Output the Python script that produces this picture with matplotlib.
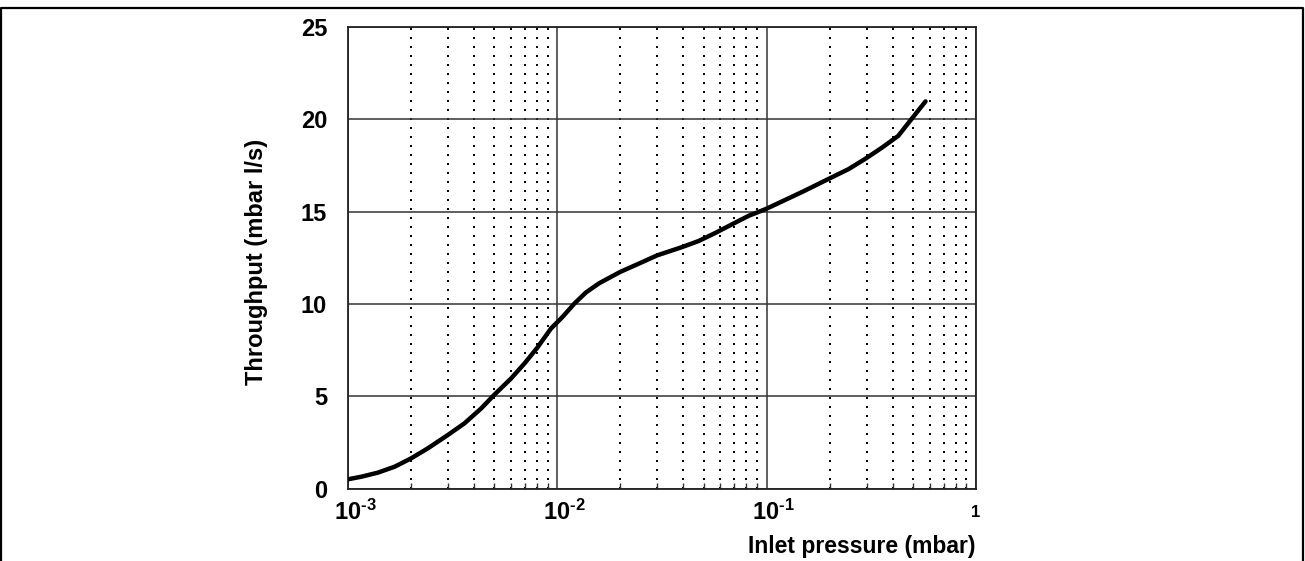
import matplotlib
matplotlib.use("Agg")
import matplotlib.pyplot as plt
import matplotlib.transforms as mtrans
from matplotlib.lines import Line2D
from matplotlib.ticker import LogLocator, FixedLocator, NullFormatter

# ---- data ----
pressure = [0.001, 0.00116, 0.00139, 0.00167, 0.002, 0.00241, 0.003, 0.0036,
            0.00433, 0.005, 0.006, 0.007, 0.008, 0.00933, 0.0106, 0.01207,
            0.0137, 0.01585, 0.01995, 0.0246, 0.030, 0.0395, 0.0474, 0.057,
            0.0736, 0.0823, 0.09, 0.1, 0.15, 0.2, 0.246, 0.295, 0.354, 0.425,
            0.483, 0.574]
throughput = [0.50, 0.64, 0.86, 1.18, 1.63, 2.18, 2.90, 3.53,
              4.34, 5.08, 5.95, 6.80, 7.61, 8.67, 9.30, 10.02,
              10.62, 11.12, 11.73, 12.19, 12.63, 13.08, 13.41, 13.85,
              14.50, 14.78, 14.95, 15.16, 16.10, 16.80, 17.30, 17.85, 18.45,
              19.10, 19.90, 20.97]

x_ticks = [1e-3, 1e-2, 1e-1, 1]
x_ticklabels = [r'$\mathbf{10}^{\text{-3}}$', r'$\mathbf{10}^{\text{-2}}$',
                r'$\mathbf{10}^{\text{-1}}$', '1']
y_ticks = [0, 5, 10, 15, 20, 25]
x_label = 'Inlet pressure (mbar)'
y_label = 'Throughput (mbar l/s)'

plt.rcParams['font.family'] = ['Liberation Sans', 'DejaVu Sans']
plt.rcParams['mathtext.fontset'] = 'custom'
plt.rcParams['mathtext.rm'] = 'Liberation Sans:bold'
plt.rcParams['mathtext.bf'] = 'Liberation Sans:bold'
plt.rcParams['mathtext.it'] = 'Liberation Sans:bold'

W, H = 1305, 561
fig = plt.figure(figsize=(W / 100, H / 100), dpi=100)
left, right, top, bottom = 348, 976, 27, 488.5
ax = fig.add_axes([left / W, 1 - bottom / H, (right - left) / W, (bottom - top) / H])

ax.set_xscale('log')
ax.set_xlim(1e-3, 1)
ax.set_ylim(0, 25)

# grid
ax.xaxis.set_major_locator(FixedLocator(x_ticks))
ax.xaxis.set_minor_locator(LogLocator(base=10, subs=range(2, 10)))
ax.xaxis.set_minor_formatter(NullFormatter())
ax.set_yticks(y_ticks)
ax.grid(which='major', axis='both', color='#333333', linewidth=1.1, linestyle='-')
ax.grid(which='minor', axis='x', color='black', linewidth=1.44,
        linestyle=(0, (1, 3.5)))
ax.set_axisbelow(True)

ax.plot(pressure, throughput, color='black', linewidth=3.2,
        solid_capstyle='round', solid_joinstyle='round', zorder=5)

ax.set_xticklabels(x_ticklabels)
for lab in ax.get_yticklabels():
    lab.set_fontweight('bold')
ax.tick_params(axis='both', which='major', length=0, labelsize=17)
ax.tick_params(axis='x', which='major', pad=8)
ax.tick_params(axis='y', which='major', pad=15)
ax.tick_params(axis='x', which='minor', direction='in', length=4, width=1,
               color='#333333', top=False)

xl = ax.get_xticklabels()
for i, lab in enumerate(xl):
    if i < 3:
        lab.set_transform(lab.get_transform() +
                          mtrans.ScaledTranslation(7 / 100, 0, fig.dpi_scale_trans))
    else:
        lab.set_fontsize(12)
        lab.set_fontweight('bold')
        lab.set_transform(lab.get_transform() +
                          mtrans.ScaledTranslation(0, -5 / 100, fig.dpi_scale_trans))

for s in ax.spines.values():
    s.set_color('#222222')
    s.set_linewidth(1.3)

ax.set_xlabel(x_label, fontsize=16.5, fontweight='bold', ha='right', va='center')
ax.xaxis.set_label_coords(1.0, -(547 - bottom) / (bottom - top))
ax.set_ylabel(y_label, fontsize=17, fontweight='bold', va='center')
ax.yaxis.set_label_coords(-(left - 256) / (right - left), 0.49)

# figure border (top, left, right)
fig.add_artist(Line2D([0.5 / W, 0.5 / W, (W - 2) / W, (W - 2) / W],
                      [0, 1 - 8 / H, 1 - 8 / H, 0],
                      transform=fig.transFigure, color='black', linewidth=1.6))

fig.savefig('out.png', dpi=100)
